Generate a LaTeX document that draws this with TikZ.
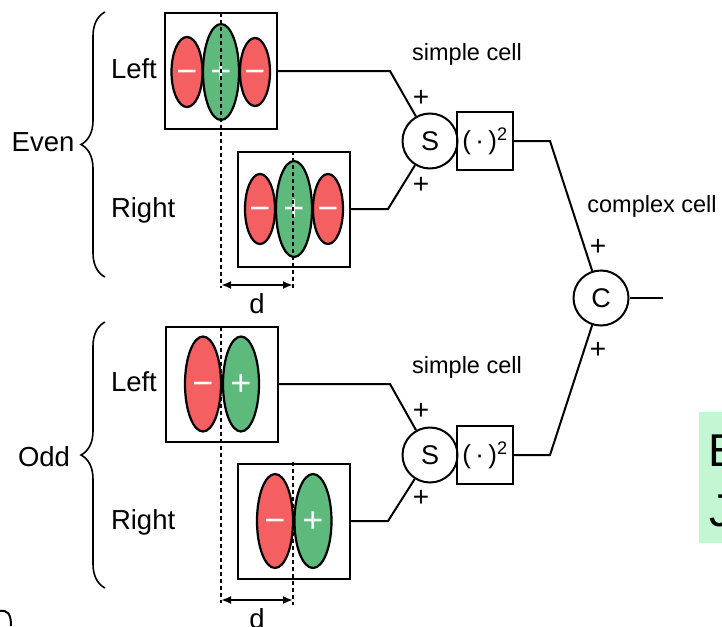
\documentclass[tikz,border=0pt]{standalone}
\usepackage{fontspec}
\setmainfont{Liberation Sans}
\usetikzlibrary{decorations.pathreplacing,arrows.meta}
\definecolor{rfred}{RGB}{244,96,98}
\definecolor{rfgreen}{RGB}{94,185,125}
\definecolor{mint}{RGB}{195,247,211}
\begin{document}
\begin{tikzpicture}[x=1pt,y=-1pt,line width=2pt,
  rfbox/.style={draw, minimum width=112pt, minimum height=115pt, inner sep=0pt},
  lobered/.style={draw, fill=rfred, line width=2.2pt},
  lobegreen/.style={draw, fill=rfgreen, line width=2.2pt},
  sign/.style={text=white, font=\fontsize{36}{36}\selectfont, inner sep=0pt, anchor=base},
  dashline/.style={dash pattern=on 4pt off 3pt, line width=2pt},
  darrow/.style={{Latex[length=10pt,width=8pt]}-{Latex[length=10pt,width=8pt]}, line width=2pt},
  lab/.style={font=\fontsize{27.5}{30}\selectfont, inner sep=0pt},
  small/.style={font=\fontsize{23.5}{26}\selectfont, inner sep=0pt},
  plus/.style={font=\fontsize{28}{28}\selectfont, inner sep=0pt},
  cellc/.style={draw, circle, minimum size=55pt, inner sep=0pt, font=\fontsize{27}{28}\selectfont},
  sqbox/.style={draw, minimum width=56pt, minimum height=58pt, inner sep=0pt, font=\fontsize{26}{28}\selectfont},
  brc/.style={decorate, decoration={brace, amplitude=24pt}, line width=1.6pt}
]
\clip (0,0) rectangle (722,626);
\useasboundingbox (0,0) rectangle (722,626);

% ---------- Even, left ----------
\node[rfbox] (evL) at (221,71) {};
\draw[lobered] (187,72) ellipse [x radius=15.5, y radius=35];
\draw[lobered] (255,72) ellipse [x radius=15, y radius=34];
\draw[lobegreen] (221,72) ellipse [x radius=18, y radius=48];
\node[sign] (evLs1) at (187,83) {−};
\node[sign] (evLs2) at (221,83) {+};
\node[sign] (evLs3) at (255,83) {−};

% ---------- Even, right ----------
\node[rfbox] (evR) at (294,209) {};
\draw[lobered] (260,209) ellipse [x radius=15, y radius=35];
\draw[lobered] (328,209) ellipse [x radius=15, y radius=35];
\draw[lobegreen] (294,209) ellipse [x radius=18, y radius=48];
\node[sign] (evRs1) at (260,220) {−};
\node[sign] (evRs2) at (294,220) {+};
\node[sign] (evRs3) at (328,220) {−};

% ---------- Odd, left ----------
\node[rfbox] (odL) at (222,384) {};
\draw[lobered] (203,384) ellipse [x radius=18, y radius=47.5];
\draw[lobegreen] (241,384) ellipse [x radius=18, y radius=47.5];
\node[sign] (odLs1) at (203,395) {−};
\node[sign] (odLs2) at (241,395) {+};

% ---------- Odd, right ----------
\node[rfbox] (odR) at (294,521) {};
\draw[lobered] (275,521) ellipse [x radius=18, y radius=47];
\draw[lobegreen] (313,521) ellipse [x radius=18.5, y radius=47];
\node[sign] (odRs1) at (275,532) {−};
\node[sign] (odRs2) at (313,532) {+};

% ---------- dashed centre lines and d arrows ----------
\coordinate (dA1) at (221,285);
\coordinate (dA2) at (293,285);
\coordinate (dB1) at (221,600);
\coordinate (dB2) at (293,600);
\draw[dashline] (221,13) -- (221,288);
\draw[dashline] (293,151) -- (293,289);
\draw[dashline] (221,327) -- (221,603);
\draw[dashline] (293,462) -- (293,605);
\draw[darrow] (dA1) -- (dA2);
\draw[darrow] (dB1) -- (dB2);
\node[lab] (dlabA) at (257,304) {d};
\node[lab] (dlabB) at (257,619) {d};

% ---------- labels ----------
\node[lab, anchor=west] (tLeft1) at (110,69) {Left};
\node[lab, anchor=west] (tRight1) at (110,210) {Right};
\node[lab, anchor=west] (tLeft2) at (110,382) {Left};
\node[lab, anchor=west] (tRight2) at (110,522) {Right};
\node[lab] (tEven) at (43,142) {Even};
\node[lab] (tOdd) at (44,457) {Odd};
\draw[brc] (105,277) -- (105,12);
\draw[brc] (105,588) -- (105,322);

% ---------- simple cells ----------
\node[cellc] (S1) at (430,141) {S};
\node[sqbox] (Q1) at (485,141) {(\,·\,)\textsuperscript{2}};
\node[cellc] (S2) at (430,455) {S};
\node[sqbox] (Q2) at (485,455) {(\,·\,)\textsuperscript{2}};
\node[small] (sc1) at (467,54) {simple cell};
\node[small] (sc2) at (467,367) {simple cell};
\node[plus] (p1) at (421,98) {+};
\node[plus] (p2) at (421,185) {+};
\node[plus] (p3) at (421,411) {+};
\node[plus] (p4) at (421,498) {+};

\coordinate (k1) at (390,71);
\coordinate (k2) at (388,209);
\coordinate (k3) at (390,384);
\coordinate (k4) at (388,521);
\draw (evL.east) -- (k1) -- (S1);
\draw (evR.east) -- (k2) -- (S1);
\draw (odL.east) -- (k3) -- (S2);
\draw (odR.east) -- (k4) -- (S2);

% ---------- complex cell ----------
\node[cellc] (C) at (601,298) {C};
\node[small] (cc) at (652,206) {complex cell};
\node[plus] (p5) at (598,247) {+};
\node[plus] (p6) at (598,350) {+};
\coordinate (m1) at (550,141);
\coordinate (m2) at (550,455);
\coordinate (out) at (663,298);
\draw (Q1.east) -- (m1) -- (C);
\draw (Q2.east) -- (m2) -- (C);
\draw (C) -- (out);

% ---------- cut-off items at the edges ----------
\fill[mint] (699,412) rectangle (730,543);
\node[font=\fontsize{46}{46}\selectfont, inner sep=0pt, anchor=base west] (bE) at (707.5,466) {E};
\node[font=\fontsize{46}{46}\selectfont, inner sep=0pt, anchor=base west] (bJ) at (708,526) {J};
\draw[line width=2pt] (0,611) .. controls (8,610) and (11,614) .. (11,626);
\end{tikzpicture}
\end{document}
